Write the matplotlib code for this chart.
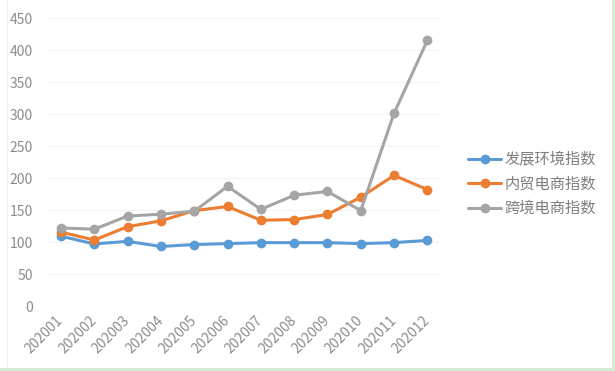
import matplotlib
matplotlib.use("Agg")
import matplotlib.pyplot as plt
from matplotlib.patches import Rectangle
from matplotlib.lines import Line2D

months = ["202001", "202002", "202003", "202004", "202005", "202006",
          "202007", "202008", "202009", "202010", "202011", "202012"]
dev_env = [109, 97, 101, 93, 96, 97.5, 99, 99, 99, 97.5, 99, 102.5]
domestic = [115.5, 103, 124, 133, 149, 155.5, 134, 135, 143, 170, 204, 182]
cross_border = [122, 120, 140.5, 143.5, 148, 187, 151, 173, 179, 149, 301, 415]
series_names = ["发展环境指数", "内贸电商指数", "跨境电商指数"]
colors = ["#5B9BD5", "#ED7D31", "#A5A5A5"]
yticks = [0, 50, 100, 150, 200, 250, 300, 350, 400, 450]

plt.rcParams['font.family'] = ['Noto Sans CJK SC', 'DejaVu Sans']

fig = plt.figure(figsize=(6.15, 3.71), dpi=100)
W, H = 615, 371
ax = fig.add_axes([47 / W, 1 - 306 / H, (441 - 47) / W, (306 - 18) / H])

x = list(range(len(months)))
for vals, name, c in zip([dev_env, domestic, cross_border], series_names, colors):
    ax.plot(x, vals, color=c, lw=2.2, marker='o', markersize=6,
            markeredgecolor=c, label=name, solid_capstyle='round')

ax.set_ylim(0, 450)
ax.set_xlim(-0.42, 11.41)
ax.set_yticks(yticks)
ax.set_yticklabels([str(v) for v in yticks])
ax.set_xticks(x)
ax.set_xticklabels(months, rotation=45, ha='right', va='center',
                   rotation_mode='anchor', fontsize=10)
ax.grid(axis='y', color='#F2F2F2', lw=0.8)
ax.set_axisbelow(True)
for s in ax.spines.values():
    s.set_visible(False)
ax.tick_params(axis='both', length=0, colors='#8C8C8C')
ax.tick_params(axis='y', pad=10, labelsize=10)
ax.tick_params(axis='x', pad=9)

leg = fig.legend(loc='center left', bbox_to_anchor=(454 / W, 1 - 184 / H),
                 frameon=False, fontsize=11, handlelength=2.2,
                 labelspacing=0.5, handletextpad=0.2)
for t in leg.get_texts():
    t.set_color('#7F7F7F')

# green frame on right and bottom
fig.patches.append(Rectangle((0, 0), 1, 3 / H, transform=fig.transFigure,
                             facecolor='#D5ECD4', edgecolor='none'))
fig.patches.append(Rectangle((1 - 3 / W, 0), 3 / W, 1, transform=fig.transFigure,
                             facecolor='#D5ECD4', edgecolor='none'))
fig.lines.append(Line2D([7 / W, 7 / W], [3 / H, 1], transform=fig.transFigure,
                        color='#F0F0F0', lw=0.8))

fig.savefig("out.png", dpi=100)
